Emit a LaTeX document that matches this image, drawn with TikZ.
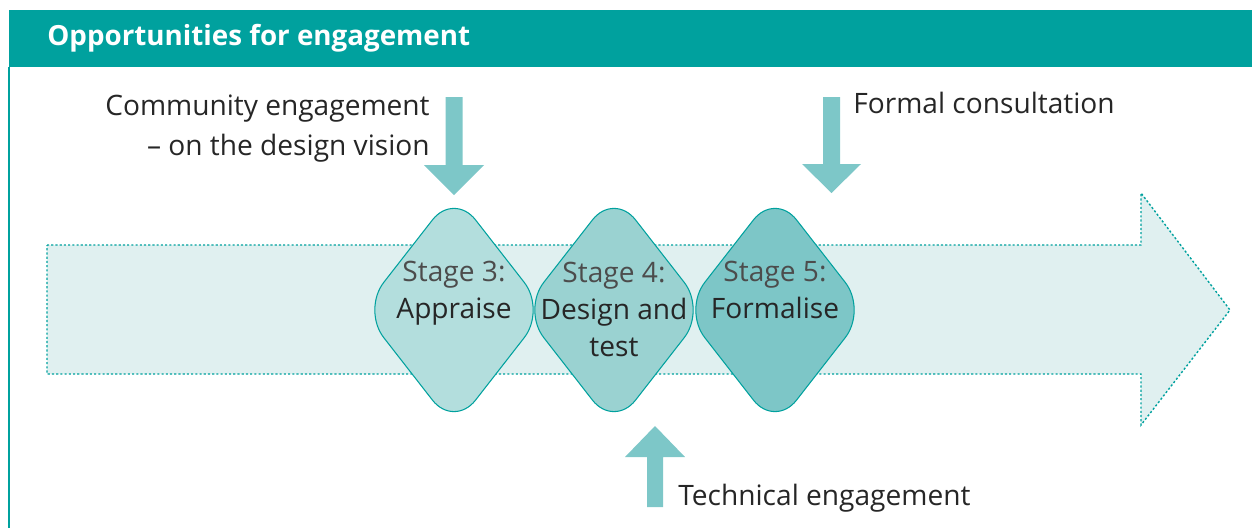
\documentclass[tikz,border=0pt]{standalone}
\usepackage{fontspec}
\setmainfont{Open Sans}
\usepackage{tikz}
\usetikzlibrary{shapes.geometric}
\usepackage{xcolor}
\definecolor{hdrteal}{HTML}{00A19E}
\definecolor{arrteal}{HTML}{7DC7C8}
\definecolor{bandfill}{HTML}{E0F0F0}
\definecolor{stagea}{HTML}{B3DEDD}
\definecolor{stageb}{HTML}{9AD2D1}
\definecolor{stagec}{HTML}{7DC6C7}

\begin{document}
\begin{tikzpicture}[x=0.02cm,y=-0.02cm,
    stage/.style={diamond,draw=hdrteal,line width=0.6pt,inner sep=0pt,minimum width=3.68cm,minimum height=4.72cm,rounded corners=0.7cm},
    stagetxt/.style={font=\fontsize{16}{21.2}\selectfont,align=center,text=black!85,inner sep=0pt,anchor=base},
    note/.style={font=\fontsize{16}{22.7}\selectfont,text=black!85,inner sep=0pt}]

\useasboundingbox (0,0) rectangle (1252,528);

% header
\fill[hdrteal] (9,10) rectangle (1252,67);
\node[anchor=base west,inner sep=0pt,font=\fontsize{15.8}{18}\selectfont\bfseries,text=white] (hdr) at (47,45) {Opportunities for engagement};
\draw[hdrteal,line width=1pt] (9,67) -- (9,528);

% process band
\draw[draw=hdrteal,fill=bandfill,line width=0.8pt,dash pattern=on 1.2pt off 1.2pt]
  (47,245) -- (1141,245) -- (1141,193) -- (1230,310) -- (1141,425) -- (1141,374) -- (47,374) -- cycle;

% block arrows
\fill[arrteal] (445.5,97) -- (462.5,97) -- (462.5,165) -- (484,165) -- (454,195) -- (424,165) -- (445.5,165) -- cycle;
\fill[arrteal] (823,97) -- (840,97) -- (840,164) -- (861,164) -- (831.5,193) -- (802,164) -- (823,164) -- cycle;
\fill[arrteal] (647,507) -- (663,507) -- (663,457) -- (685,457) -- (655,426) -- (625,457) -- (647,457) -- cycle;

% stages
\node[stage,fill=stagea] (s3) at (454,310) {};
\node[stage,fill=stageb] (s4) at (614,310) {};
\node[stage,fill=stagec] (s5) at (775,310) {};

\node[stagetxt] (t3) at (s3|-0,318.5) {\color{black!70}Stage 3:\\Appraise};
\node[stagetxt] (t4) at (s4|-0,356.7) {\color{black!70}Stage 4:\\Design and\\test};
\node[stagetxt] (t5) at (s5|-0,318.5) {\color{black!70}Stage 5:\\Formalise};

% labels
\node[note,anchor=base east,align=right] (comm) at (430,155.5) {Community engagement\\– on the design vision};
\node[note,anchor=base west] (formal) at (853,113) {Formal consultation};
\node[note,anchor=base west] (tech) at (678,505) {Technical engagement};

\end{tikzpicture}
\end{document}
